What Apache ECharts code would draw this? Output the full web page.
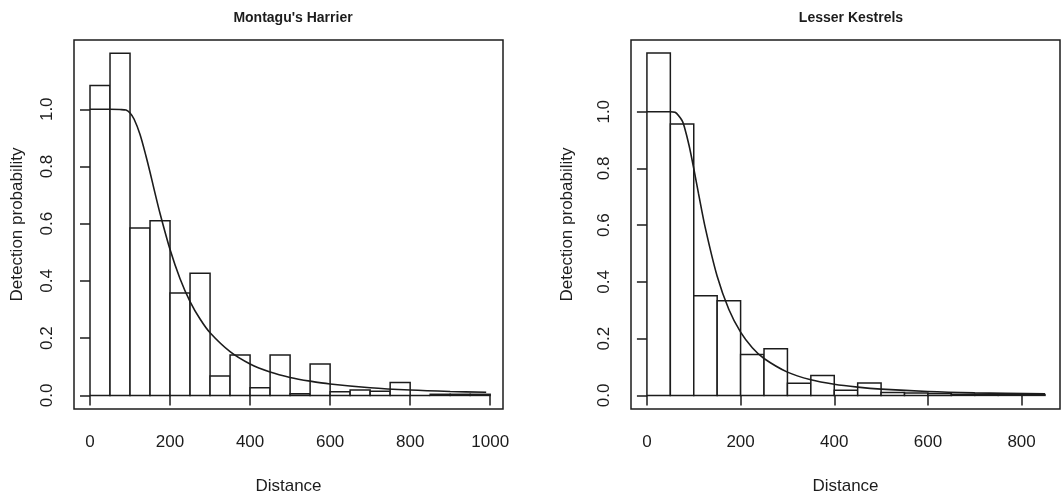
<!DOCTYPE html>
<html lang="en">
<head>
    <meta charset="UTF-8">
    <title>Detection probability</title>
    <script src="https://cdn.jsdelivr.net/npm/echarts@6/dist/echarts.min.js"></script>
    <style>
        * { margin: 0; padding: 0; }
        #main { width: 1062px; height: 500px; background: #fff; }
    </style>
</head>
<body>
    <div id="main"></div>
    <script>
        // bin edges (50 m wide) and scaled histogram heights
        var harrierBreaks = [0, 50, 100, 150, 200, 250, 300, 350, 400, 450, 500, 550, 600, 650, 700, 750, 800, 850, 900, 950, 1000];
        var harrierHeights = [1.083, 1.196, 0.585, 0.610, 0.358, 0.427, 0.068, 0.141, 0.027, 0.141, 0.006, 0.110, 0.013, 0.019, 0.015, 0.045, 0.0, 0.004, 0.004, 0.004];
        var kestrelBreaks = [0, 50, 100, 150, 200, 250, 300, 350, 400, 450, 500, 550, 600, 650, 700, 750, 800, 850];
        var kestrelHeights = [1.207, 0.957, 0.351, 0.334, 0.144, 0.164, 0.043, 0.070, 0.018, 0.044, 0.010, 0.008, 0.007, 0.004, 0.004, 0.003, 0.003];

        // fitted detection curves
        var harrierCurveX = [0, 25, 50, 75, 90, 100, 110, 125, 140, 150, 160, 175, 200, 225, 250, 275, 300, 350, 400, 450, 500, 550, 600, 700, 800, 900, 990];
        var harrierCurveY = [1.0, 1.0, 1.0, 0.999, 0.997, 0.987, 0.966, 0.912, 0.836, 0.78, 0.721, 0.636, 0.51, 0.408, 0.328, 0.267, 0.219, 0.153, 0.11, 0.082, 0.063, 0.05, 0.04, 0.027, 0.019, 0.014, 0.011];
        var kestrelCurveX = [0, 25, 50, 60, 75, 80, 90, 100, 110, 125, 150, 175, 200, 225, 250, 300, 350, 400, 450, 500, 600, 700, 850];
        var kestrelCurveY = [1.0, 1.0, 1.0, 0.998, 0.969, 0.946, 0.881, 0.80, 0.713, 0.588, 0.42, 0.303, 0.223, 0.168, 0.13, 0.082, 0.055, 0.039, 0.029, 0.022, 0.0135, 0.009, 0.0053];

        var harrierTicks = [0, 200, 400, 600, 800, 1000];
        var kestrelTicks = [0, 200, 400, 600, 800];
        var probTicks = [0, 0.2, 0.4, 0.6, 0.8, 1.0];

        var ink = '#1c1c1c';
        var font = 'Liberation Sans, Arial, Helvetica, sans-serif';

        function toBins(breaks, heights) {
            var out = [];
            for (var i = 0; i < heights.length; i++) {
                out.push([breaks[i], breaks[i + 1], heights[i]]);
            }
            return out;
        }
        function toPairs(xs, ys) {
            return xs.map(function (x, i) { return [x, ys[i]]; });
        }

        function renderBar(params, api) {
            var p0 = api.coord([api.value(0), 0]);
            var p1 = api.coord([api.value(1), api.value(2)]);
            return {
                type: 'rect',
                shape: { x: p0[0], y: p1[1], width: p1[0] - p0[0], height: p0[1] - p1[1] },
                style: { fill: '#fff', stroke: ink, lineWidth: 1.5 }
            };
        }

        function xAxis(idx, min, max, ticks) {
            return {
                gridIndex: idx, type: 'value', min: min, max: max,
                name: 'Distance', nameLocation: 'middle', nameGap: 69,
                nameTextStyle: { fontSize: 17, color: ink, fontFamily: font },
                axisLine: { show: false },
                splitLine: { show: false },
                axisTick: { show: true, customValues: ticks, length: 10, lineStyle: { color: ink, width: 1.5 } },
                axisLabel: {
                    customValues: ticks, fontSize: 17, margin: 25, color: ink, fontFamily: font,
                    formatter: function (v) { return String(v); }
                }
            };
        }
        function yAxis(idx, min, max, gap) {
            return {
                gridIndex: idx, type: 'value', min: min, max: max,
                name: 'Detection probability', nameLocation: 'middle', nameGap: gap,
                nameTextStyle: { fontSize: 17, color: ink, fontFamily: font },
                axisLine: { show: false },
                splitLine: { show: false },
                axisTick: { show: true, customValues: probTicks, length: 10, lineStyle: { color: ink, width: 1.5 } },
                axisLabel: {
                    customValues: probTicks, rotate: 90, fontSize: 17, margin: 18, color: ink, fontFamily: font,
                    formatter: function (v) { return v.toFixed(1); }
                }
            };
        }

        var chart = echarts.init(document.getElementById('main'));
        var option = {
            animation: false,
            backgroundColor: '#fff',
            title: [
                { text: "Montagu's Harrier", left: 288, top: 6, textAlign: 'center',
                  textStyle: { fontSize: 14, fontWeight: 'bold', color: ink, fontFamily: font } },
                { text: 'Lesser Kestrels', left: 846, top: 6, textAlign: 'center',
                  textStyle: { fontSize: 14, fontWeight: 'bold', color: ink, fontFamily: font } }
            ],
            grid: [
                { left: 74, top: 40, width: 429, height: 373, show: true, borderColor: ink, borderWidth: 1.5, backgroundColor: 'transparent' },
                { left: 631, top: 40, width: 429, height: 373, show: true, borderColor: ink, borderWidth: 1.5, backgroundColor: 'transparent' }
            ],
            xAxis: [
                xAxis(0, -40, 1032, harrierTicks),
                xAxis(1, -34, 882, kestrelTicks)
            ],
            yAxis: [
                yAxis(0, -0.0474, 1.242, 48),
                yAxis(1, -0.048, 1.253, 55)
            ],
            series: [
                { type: 'custom', xAxisIndex: 0, yAxisIndex: 0, renderItem: renderBar,
                  encode: { x: [0, 1], y: 2 }, data: toBins(harrierBreaks, harrierHeights), z: 2 },
                { type: 'line', xAxisIndex: 0, yAxisIndex: 0, smooth: 0.3, showSymbol: false,
                  lineStyle: { color: ink, width: 1.6 }, data: toPairs(harrierCurveX, harrierCurveY), z: 3 },
                { type: 'custom', xAxisIndex: 1, yAxisIndex: 1, renderItem: renderBar,
                  encode: { x: [0, 1], y: 2 }, data: toBins(kestrelBreaks, kestrelHeights), z: 2 },
                { type: 'line', xAxisIndex: 1, yAxisIndex: 1, smooth: 0.3, showSymbol: false,
                  lineStyle: { color: ink, width: 1.6 }, data: toPairs(kestrelCurveX, kestrelCurveY), z: 3 }
            ]
        };
        chart.setOption(option);
    </script>
</body>
</html>
